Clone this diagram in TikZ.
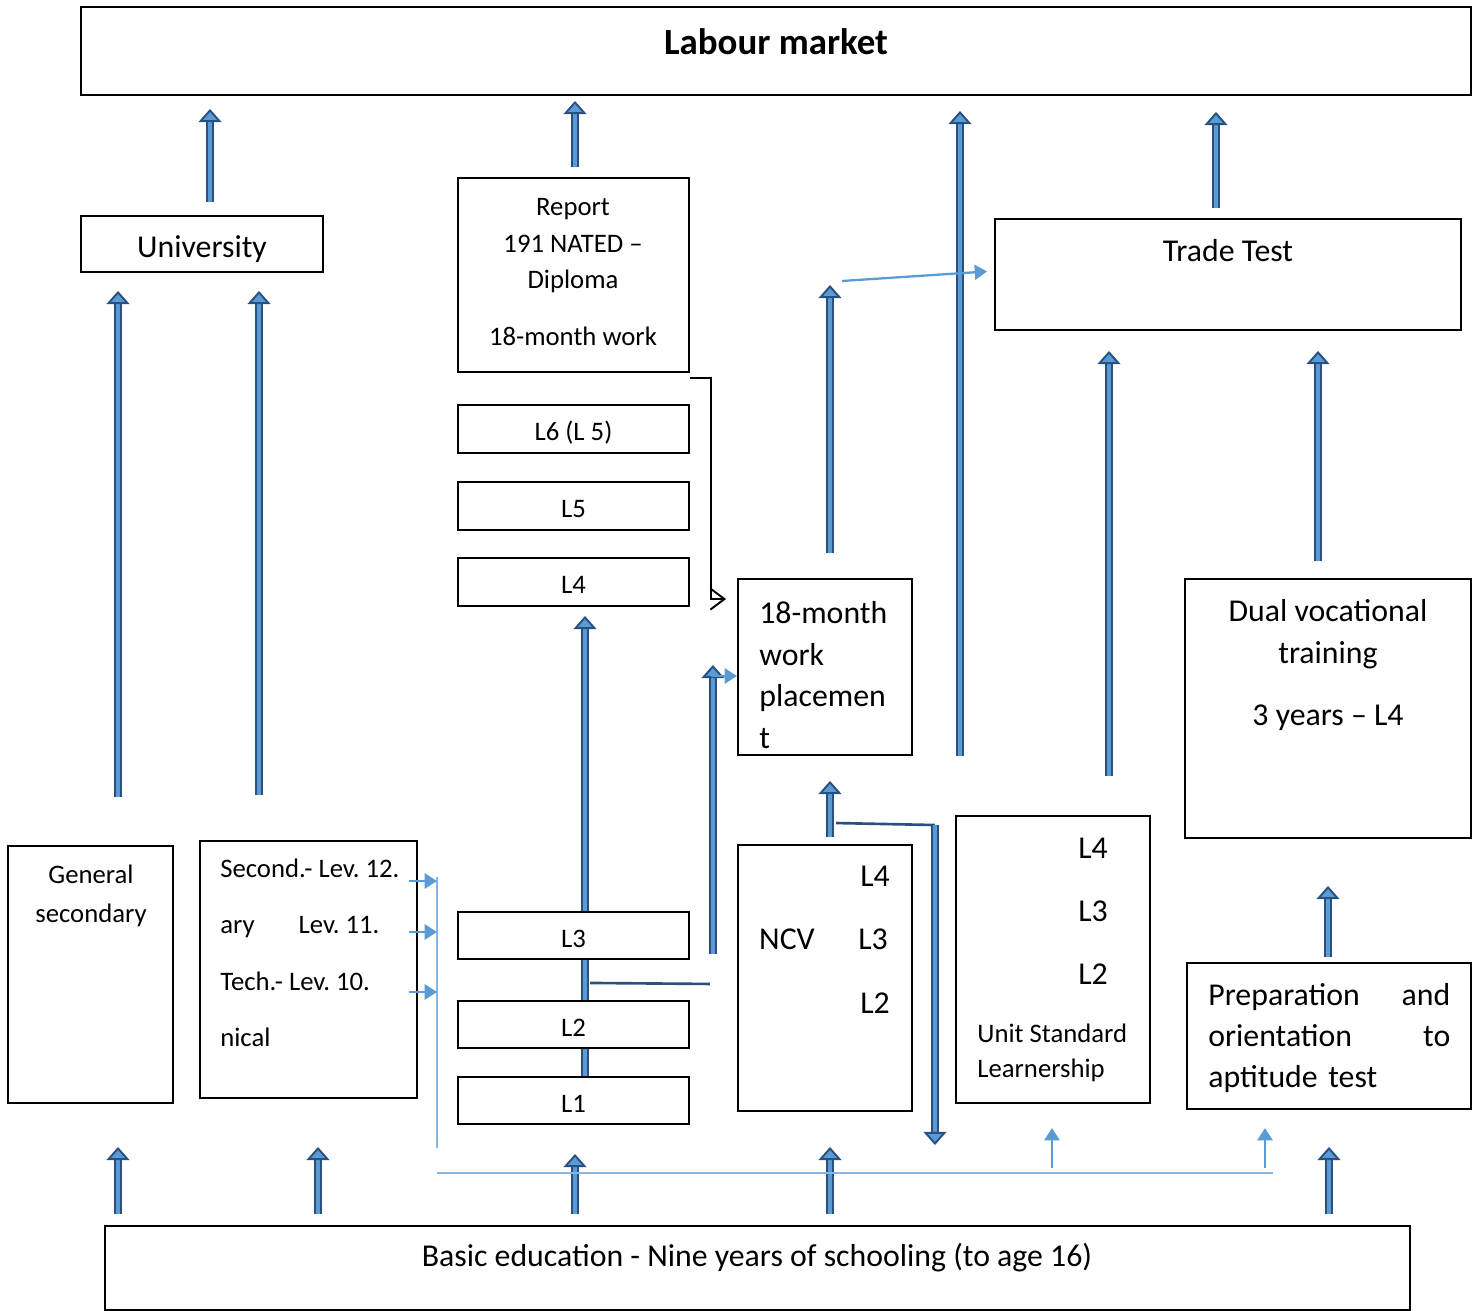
\documentclass[tikz,border=0pt]{standalone}
\usepackage{fontspec}
\setmainfont{Carlito}
\usepackage{xcolor}
\definecolor{navy}{RGB}{40,80,128}
\definecolor{sky}{RGB}{91,155,213}
\definecolor{skylight}{RGB}{140,180,225}
\usetikzlibrary{arrows.meta,calc,fit,backgrounds}
\newcommand\largetext{\fontsize{18.1}{23.8}\selectfont}
\newcommand\smalltext{\fontsize{15.2}{20.7}\selectfont}
\frenchspacing
\tikzset{
  box/.style={draw,fill=white,line width=1.1pt,inner sep=0pt},
  levelbox/.style={box,minimum width=4.62cm,font=\smalltext,text height=13.6pt,text depth=0pt},
  bigarrow/.style={draw=navy,double=sky,double distance=1.9pt,line width=1.2pt,%
    -{Triangle[width=13pt,length=7.5pt,fill=sky,line width=1.1pt]}},
  feed/.style={draw=sky,line width=1.6pt,-{Triangle[width=8.5pt,length=7pt]}},
  bus/.style={draw=skylight,line width=1pt},
  link/.style={draw=navy,line width=1.5pt},
  hook/.style={draw=black,line width=1.1pt,-{Straight Barb[length=8pt,width=12pt,line width=1.1pt]}},
}

\begin{document}
\begin{tikzpicture}[x=0.02cm,y=-0.02cm]
\useasboundingbox (0,0) rectangle (1472,1311);
\node[box,fit={(81,7) (1471,95)}] (market) {};
\node[font=\fontsize{21}{25}\selectfont\bfseries] (markettxt) at (776,42) {Labour market};
\node[box,minimum width=4.84cm,minimum height=1.12cm,text height=15.3pt,text depth=0pt,font=\largetext] (uni) at (202,244) {University};
\node[box,fit={(458,178) (689,372)}] (report) {};
\node[font=\smalltext,align=center] (reporttxt) at (573,272)
  {Report\\191 NATED –\\Diploma\\[11.6pt]18-month work};
\node[levelbox,minimum height=0.96cm] (l6) at (573.5,429) {L6 (L 5)};
\node[levelbox,minimum height=0.96cm] (l5) at (573.5,506) {L5};
\node[levelbox,minimum height=0.96cm] (l4) at (573.5,582) {L4};
\node[levelbox,minimum height=0.94cm] (l3) at (573.5,935.5) {L3};
\node[levelbox,minimum height=0.94cm] (l2) at (573.5,1024.5) {L2};
\node[levelbox,minimum height=0.94cm] (l1) at (573.5,1100.5) {L1};
\node[box,fit={(738,579) (912,755)}] (place) {};
\node[font=\largetext,align=left,anchor=west,inner sep=0pt] (placetxt) at (759,675)
  {18-month\\work\\placemen\\t};
\node[box,fit={(995,219) (1461,330)}] (trade) {};
\node[font=\largetext] (tradetxt) at (1228,251) {Trade Test};
\node[box,fit={(1185,579) (1471,838)}] (dual) {};
\node[font=\largetext,align=center] (dualtxt) at (1328,665)
  {Dual vocational\\training\\[11.9pt]3 years – L4};
\node[box,fit={(8,846) (173,1103)}] (gensec) {};
\node[font=\fontsize{15.2}{22}\selectfont,align=center] (gensectxt) at (91,896)
  {General\\secondary};
\node[box,fit={(200,841) (417,1098)}] (second) {};
\node[font=\fontsize{15.2}{32.1}\selectfont,align=left,anchor=west,inner sep=0pt] (secondtxt) at (220,953)
  {Second.- Lev. 12.\\ary\hspace{25pt}Lev. 11.\\Tech.- Lev. 10.\\nical};
\node[box,fit={(738,845) (912,1111)}] (ncv) {};
\node[font=\largetext] (ncvname) at (787,939) {NCV};
\node[font=\largetext] (ncvfour) at (875,876) {L4};
\node[font=\largetext] (ncvthree) at (873,939) {L3};
\node[font=\largetext] (ncvtwo) at (875,1003) {L2};
\node[box,fit={(956,816) (1150,1103)}] (unit) {};
\node[font=\largetext] (unitfour) at (1093,848) {L4};
\node[font=\largetext] (unitthree) at (1093,911) {L3};
\node[font=\largetext] (unittwo) at (1093,974) {L2};
\node[font=\fontsize{15.2}{19.8}\selectfont,align=left,anchor=west,inner sep=0pt] (unittxt) at (977,1053)
  {Unit Standard\\Learnership};
\node[box,fit={(1187,963) (1471,1109)}] (prep) {};
\node[font=\fontsize{18.1}{23.5}\selectfont,align=left,text width=4.84cm,anchor=west,inner sep=0pt]
  (preptxt) at (1208,1038) {Preparation\hfill and\\orientation\hfill to\\aptitude test};
\node[box,fit={(105,1226) (1410,1310)}] (basic) {};
\node[font=\largetext] (basictxt) at (757,1258) {Basic education - Nine years of schooling (to age 16)};

\begin{scope}[on background layer]
\draw[bigarrow,shorten >=0.18cm] (585,0 |- l1.north) -- (585,0 |- l4.south);
\end{scope}

\draw[bigarrow,shorten <=0.26cm,shorten >=0.26cm] (210,0 |- uni.north) -- (210,0 |- market.south);
\draw[bigarrow,shorten <=0.2cm,shorten >=0.1cm] (575,0 |- report.north) -- (575,0 |- market.south);
\draw[bigarrow,shorten >=0.3cm] (960,0 |- place.south) -- (960,0 |- market.south);
\draw[bigarrow,shorten <=0.2cm,shorten >=0.32cm] (1216,0 |- trade.north) -- (1216,0 |- market.south);
\draw[bigarrow,shorten <=0.96cm,shorten >=0.36cm] (118,0 |- gensec.north) -- (118,0 |- uni.south);
\draw[bigarrow,shorten <=0.9cm,shorten >=0.36cm] (259,0 |- second.north) -- (259,0 |- uni.south);
\coordinate (tradein) at (842,281);
\draw[bigarrow,shorten <=0.5cm] (830,0 |- place.north) -- (830,285);
\draw[bigarrow] ($(l3.south east)+(23,-6)$) coordinate (sidefoot) -- ($(sidefoot |- place.west)+(0,-2)$);
\draw[feed] ($(place.west)+(-26,9)$) -- ($(place.west)+(0,9)$);
\draw[link] ($(l3.south)+(16.5,23)$) -- ($(l3.south east)+(20,24)$);
\draw[bigarrow,shorten <=0.14cm,shorten >=0.5cm] (830,0 |- ncv.north) -- (830,0 |- place.south);
\coordinate (turn) at ($(ncv.north east)+(22,-19)$);
\draw[link] ($(ncv.north)+(11,-21)$) -- (turn);
\draw[bigarrow] (turn) -- ($(turn)+(0,320)$);
\draw[bigarrow,shorten <=0.78cm,shorten >=0.4cm] (1109,0 |- unit.north) -- (1109,0 |- trade.south);
\draw[bigarrow,shorten <=0.34cm,shorten >=0.4cm] (1318,0 |- dual.north) -- (1318,0 |- trade.south);
\draw[bigarrow,shorten <=0.1cm,shorten >=0.94cm] (1328,0 |- prep.north) -- (1328,0 |- dual.south);
\foreach \xpos/\tgt/\cut in {118/gensec/0.86,318/second/0.96,575/l1/0.58,830/ncv/0.7,1329/prep/0.74}
  \draw[bigarrow,shorten <=0.22cm,shorten >=\cut cm] (\xpos,0 |- basic.north) -- (\xpos,0 |- \tgt.south);

\coordinate (bustop) at (437,877);
\coordinate (busfoot) at (437,1148);
\coordinate (busleft) at (437,1173);
\coordinate (busright) at (1273,1173);
\draw[bus] (bustop) -- (busfoot);
\draw[bus] (busleft) -- (busright);
\foreach \ypos in {881,932,992}
  \draw[feed] ($(second.east |- 0,\ypos)+(-9,0)$) -- (bustop |- 0,\ypos);
\foreach \xpos in {1052,1265}
  \draw[feed] ($(\xpos,0 |- busleft)+(0,-5)$) -- ($(\xpos,0 |- busleft)+(0,-45)$);
\draw[feed,line width=1.3pt,shorten >=0.14cm] (tradein) -- ($(trade.west)+(0,-3.5)$);
\draw[hook] ([yshift=-0.1cm]report.south east) -- ++(21,0) |- ($(place.north west)+(-11,21)$);
\end{tikzpicture}
\end{document}
